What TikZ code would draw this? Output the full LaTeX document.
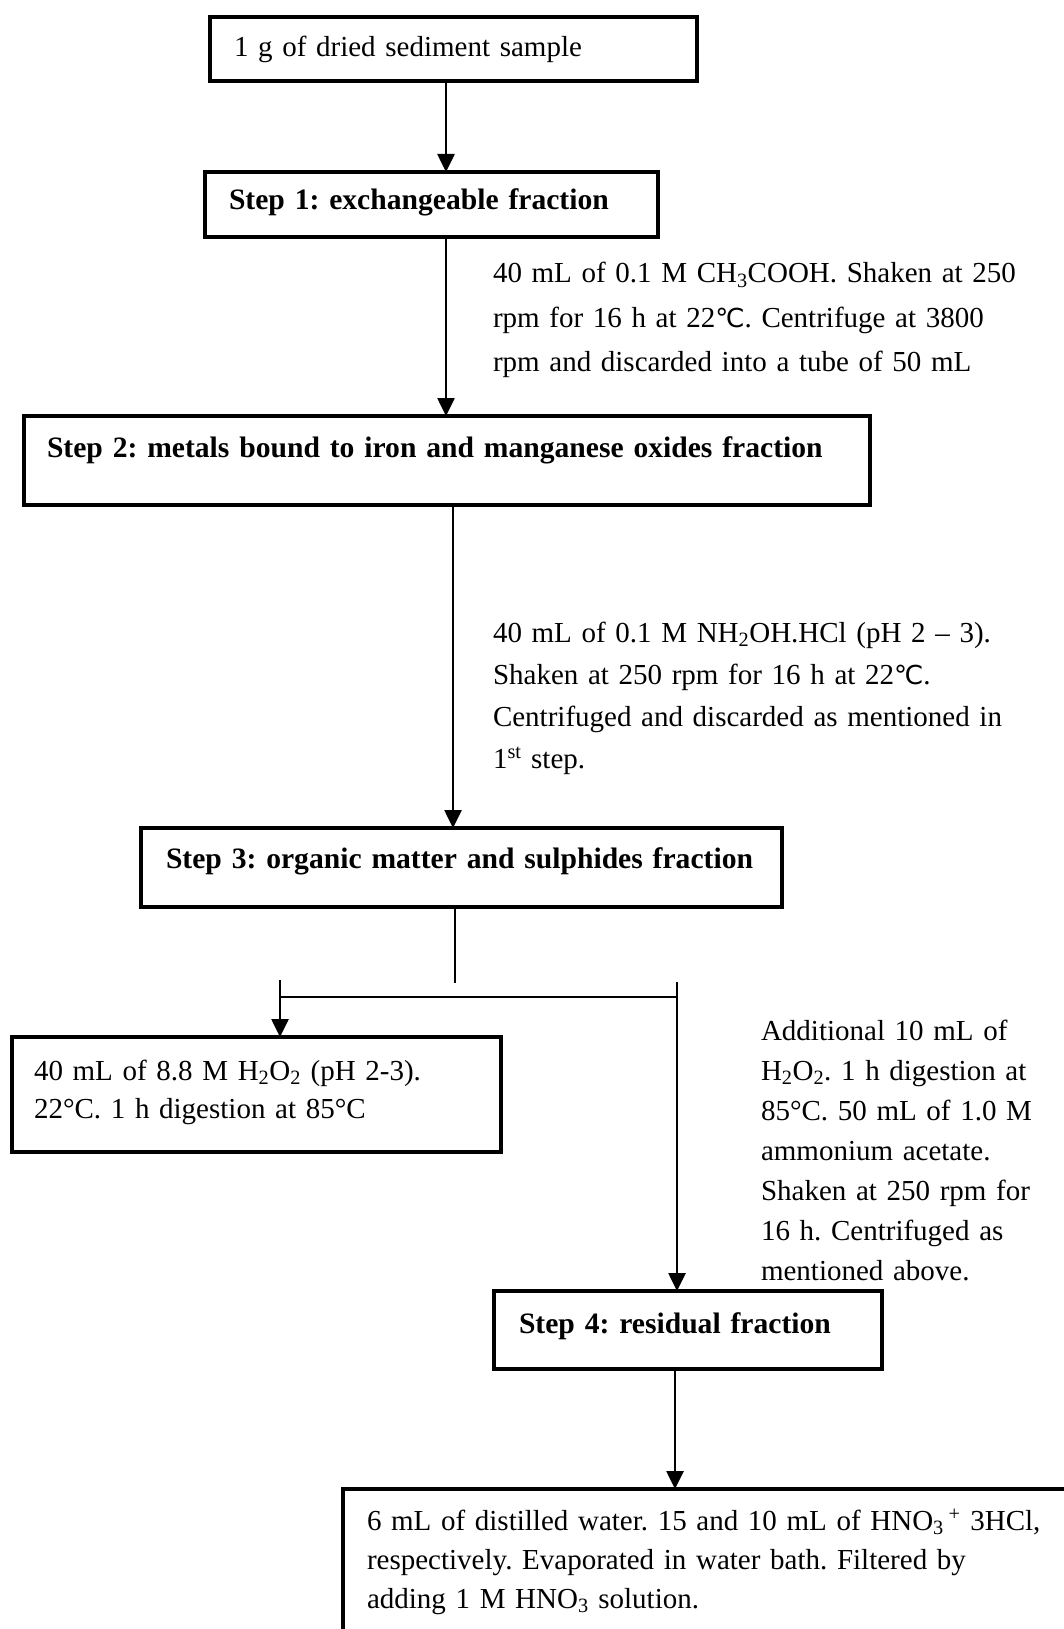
\documentclass[tikz,border=0pt]{standalone}
\usepackage{fontspec}
\setmainfont{Liberation Serif}
\newfontfamily\degfont{DejaVu Sans}[Scale=0.9]
\usetikzlibrary{arrows.meta}
\newcommand{\dC}{{\degfont ℃}}
\frenchspacing
\begin{document}
\begin{tikzpicture}[x=1pt,y=-1pt,
  box/.style={draw, rectangle, line width=3.2pt, inner sep=0pt, outer sep=0pt},
  txt/.style={anchor=base west, inner sep=0pt, outer sep=0pt, align=left, text width=#1},
  arr/.style={line width=2.6pt, -{Triangle[length=18pt,width=17pt]}},
  ln/.style={line width=2.6pt}]
\useasboundingbox (0,0) rectangle (1064,1629);
\clip (0,0) rectangle (1064,1629);
\fill[white] (0,0) rectangle (1064,1629);

% boxes
\node[box, minimum width=487pt, minimum height=64pt] (b0) at (453.5,49) {};
\node[box, minimum width=453pt, minimum height=65pt] (s1) at (431.5,204.5) {};
\node[box, minimum width=846pt, minimum height=89pt] (s2) at (447,460.5) {};
\node[box, minimum width=641pt, minimum height=79pt] (s3) at (461.5,867.5) {};
\node[box, minimum width=489pt, minimum height=115pt] (lb) at (256.5,1094.5) {};
\node[box, minimum width=388pt, minimum height=78pt] (s4) at (688,1330) {};
\node[box, minimum width=800pt, minimum height=220pt] (fb) at (743,1599) {};

% texts
\node[txt=600pt, font=\fontsize{29}{44}\selectfont] (t0) at (234,57) {1 g of dried sediment sample};
\node[txt=600pt, font=\fontsize{29.6}{44}\selectfont\bfseries] (t1) at (229,210) {Step 1: exchangeable fraction};
\node[txt=600pt, font=\fontsize{29}{44.5}\selectfont] (c1) at (493,283) {40 mL of 0.1 M CH\textsubscript{3}COOH. Shaken at 250\\
rpm for 16 h at 22\dC. Centrifuge at 3800\\
rpm and discarded into a tube of 50 mL};
\node[txt=840pt, font=\fontsize{29.6}{44}\selectfont\bfseries] (t2) at (47,457) {Step 2: metals bound to iron and manganese oxides fraction};
\node[txt=600pt, font=\fontsize{29}{42}\selectfont] (c2) at (493,642) {40 mL of 0.1 M NH\textsubscript{2}OH.HCl (pH 2 – 3).\\
Shaken at 250 rpm for 16 h at 22\dC.\\
Centrifuged and discarded as mentioned in\\
1\textsuperscript{st} step.};
\node[txt=640pt, font=\fontsize{29.6}{44}\selectfont\bfseries] (t3) at (166,868) {Step 3: organic matter and sulphides fraction};
\node[txt=480pt, font=\fontsize{29}{38}\selectfont] (cl) at (34,1080) {40 mL of 8.8 M H\textsubscript{2}O\textsubscript{2} (pH 2-3).\\
22°C. 1 h digestion at 85°C};
\node[txt=320pt, font=\fontsize{29}{40}\selectfont] (cr) at (761,1040) {Additional 10 mL of\\
H\textsubscript{2}O\textsubscript{2}. 1 h digestion at\\
85°C. 50 mL of 1.0 M\\
ammonium acetate.\\
Shaken at 250 rpm for\\
16 h. Centrifuged as\\
mentioned above.};
\node[txt=380pt, font=\fontsize{29.6}{44}\selectfont\bfseries] (t4) at (519,1333) {Step 4: residual fraction};
\node[txt=720pt, font=\fontsize{29}{39}\selectfont] (cf) at (367,1530) {6 mL of distilled water. 15 and 10 mL of HNO\textsubscript{3}\,\textsuperscript{+} 3HCl,\\
respectively. Evaporated in water bath. Filtered by\\
adding 1 M HNO\textsubscript{3} solution.};

% connectors
\coordinate (x1) at (446,0);
\coordinate (x3) at (453,0);
\coordinate (stemend) at (455,983);
\coordinate (hl) at (280,997);
\coordinate (hr) at (677,997);
\coordinate (ltop) at (280,980);
\coordinate (rtop) at (677,982);
\coordinate (x4) at (675,0);
\draw[arr] (b0.south -| x1) -- (s1.north -| x1);
\draw[arr] (s1.south -| x1) -- (s2.north -| x1);
\draw[arr] (s2.south -| x3) -- (s3.north -| x3);
\draw[ln] (s3.south -| stemend) -- (stemend);
\draw[ln] (hl) -- (hr);
\draw[arr] (ltop) -- (lb.north -| ltop);
\draw[arr] (rtop) -- (s4.north -| rtop);
\draw[arr] (s4.south -| x4) -- (fb.north -| x4);
\end{tikzpicture}
\end{document}
